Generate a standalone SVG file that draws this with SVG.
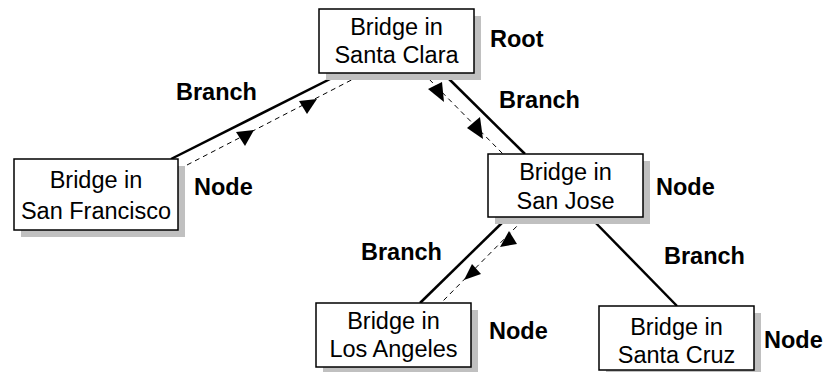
<svg xmlns="http://www.w3.org/2000/svg" width="827" height="372" viewBox="0 0 827 372">
<style>
.shadow{fill:#c0c0c0;stroke:none}
.box{fill:#fff;stroke:#000;stroke-width:1.5}
.t{font-family:"Liberation Sans",Arial,sans-serif;font-size:23.5px;fill:#000;text-anchor:middle}
.lbl{font-family:"Liberation Sans",Arial,sans-serif;font-size:23.5px;font-weight:bold;fill:#000}
.branch{stroke:#000;stroke-width:2.5;fill:none}
.flow{stroke:#000;stroke-width:1;stroke-dasharray:5,4;fill:none}
.ah{fill:#000;stroke:none}
</style>
<rect width="827" height="372" fill="#fff"/>
<g id="connectors">
<line class="branch" x1="171" y1="159" x2="342" y2="73"/>
<line class="branch" x1="443" y1="73" x2="525" y2="154"/>
<line class="branch" x1="508" y1="217" x2="420" y2="303"/>
<line class="branch" x1="590" y1="217" x2="677" y2="306"/>
<line class="flow" x1="187" y1="165" x2="363" y2="74"/>
<line class="flow" x1="423" y1="73" x2="503" y2="154"/>
<line class="flow" x1="523" y1="220" x2="443" y2="301"/>
<polygon class="ah" points="299,101 317,99 307,114"/>
<polygon class="ah" points="236,132 254,130 245,146"/>
<polygon class="ah" points="428,89 442,82 444,102"/>
<polygon class="ah" points="467,128 480,117 483,139"/>
<polygon class="ah" points="509,231 517,244 500,247"/>
<polygon class="ah" points="472,264 481,274 464,280"/>
</g>
<g id="santa-clara">
<rect class="shadow" x="326" y="16" width="155" height="64"/>
<rect class="box" x="319" y="9" width="155" height="64"/>
<text class="t" x="396.5" y="35">Bridge in</text>
<text class="t" x="396.5" y="63">Santa Clara</text>
</g>
<g id="san-francisco">
<rect class="shadow" x="21" y="166" width="164" height="71"/>
<rect class="box" x="14" y="159" width="164" height="71"/>
<text class="t" x="96" y="188">Bridge in</text>
<text class="t" x="96" y="219">San Francisco</text>
</g>
<g id="san-jose">
<rect class="shadow" x="495" y="161" width="155" height="63"/>
<rect class="box" x="488" y="154" width="155" height="63"/>
<text class="t" x="565.5" y="180">Bridge in</text>
<text class="t" x="565.5" y="209">San Jose</text>
</g>
<g id="los-angeles">
<rect class="shadow" x="323" y="310" width="155" height="64"/>
<rect class="box" x="316" y="303" width="155" height="64"/>
<text class="t" x="393.5" y="329">Bridge in</text>
<text class="t" x="393.5" y="357">Los Angeles</text>
</g>
<g id="santa-cruz">
<rect class="shadow" x="606" y="313" width="155" height="64"/>
<rect class="box" x="599" y="306" width="155" height="64"/>
<text class="t" x="676.5" y="335">Bridge in</text>
<text class="t" x="676.5" y="363">Santa Cruz</text>
</g>
<g id="labels">
<text class="lbl" x="490" y="47">Root</text>
<text class="lbl" x="176" y="100">Branch</text>
<text class="lbl" x="194" y="195">Node</text>
<text class="lbl" x="499" y="108">Branch</text>
<text class="lbl" x="656" y="195">Node</text>
<text class="lbl" x="361" y="260">Branch</text>
<text class="lbl" x="489" y="339">Node</text>
<text class="lbl" x="664" y="264">Branch</text>
<text class="lbl" x="764" y="348">Node</text>
</g>
</svg>
